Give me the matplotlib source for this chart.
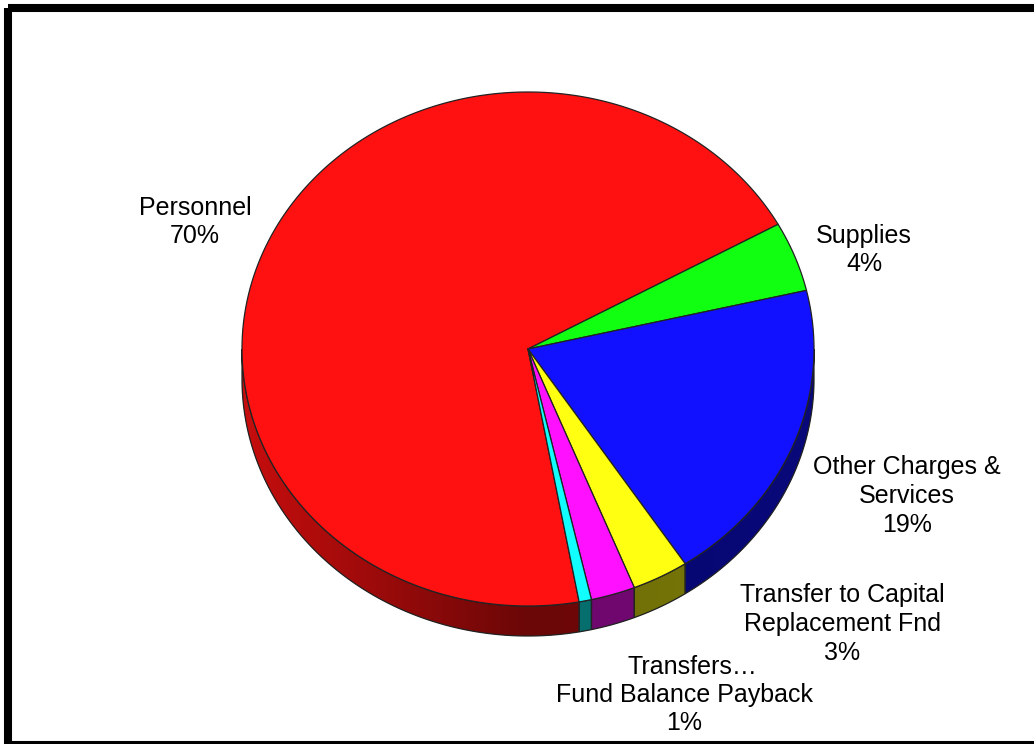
import numpy as np
import matplotlib
matplotlib.use("Agg")
import matplotlib.pyplot as plt
from matplotlib.patches import Polygon, Rectangle

# Budget shares (percent)
categories = ["Personnel", "Supplies", "Other Charges &\nServices",
              "Transfer to Capital\nReplacement Fnd", "Transfers…",
              "Fund Balance Payback"]
values = [69.8, 4.4, 19.4, 3.2, 2.5, 0.7]
show_pct = [True, True, True, True, False, True]
colors = ["#ff1111", "#11ff11", "#1111ff", "#ffff11", "#ff11ff", "#11ffff"]

# label anchor points in pixels (x, y centre)
label_pos = [(195, 222), (864, 250), (907, 496), (842, 624), (692, 667), (684, 709)]

W, H = 1034, 744
fig = plt.figure(figsize=(W / 100, H / 100), dpi=100)
ax = fig.add_axes([0, 0, 1, 1])
ax.set_xlim(0, W)
ax.set_ylim(H, 0)
ax.axis("off")

# pie geometry (pixels)
cx, cy, rx, ry, depth = 528, 349, 286, 257, 30
start = 280.3  # first slice starts here, going clockwise


def pt(t, dz=0.0):
    r = np.radians(t)
    return cx + rx * np.cos(r), cy - ry * np.sin(r) + dz


def shade_x(x):
    # lighting of the rim, brightest on the left side
    c = np.clip((x - cx) / rx, -1, 1)
    return 0.42 + 0.36 * np.maximum(0.0, -c) + 0.06 * np.maximum(0.0, c)


edge = "#222222"
total = sum(values)
spans = []
a = start
for v in values:
    w = 360.0 * v / total
    spans.append((a - w, a))
    a -= w

# horizontal shading ramp used for the rim
xs = np.linspace(cx - rx, cx + rx, 600)
ramp = shade_x(xs)

# side walls for the front half of the pie
for (lo, hi), col in zip(spans, colors):
    rgb = np.array(matplotlib.colors.to_rgb(col))
    for off in (0, 360, -360):
        s0, s1 = max(lo + off, 180), min(hi + off, 360)
        if s1 <= s0:
            continue
        ts = np.linspace(s0, s1, max(2, int((s1 - s0) * 2) + 1))
        top = [pt(t) for t in ts]
        bot = [pt(t, depth) for t in ts[::-1]]
        side = Polygon(top + bot, closed=True, facecolor=rgb * 0.45,
                       edgecolor="none")
        ax.add_patch(side)
        img = ramp[None, :, None] * rgb[None, None, :]
        im = ax.imshow(img, extent=(cx - rx, cx + rx, cy + ry + depth + 2, cy - 2),
                       aspect="auto", interpolation="bilinear", zorder=1.5)
        im.set_clip_path(side)
        ax.add_patch(Polygon(top + bot, closed=True, facecolor="none",
                             edgecolor=edge, lw=0.9, zorder=1.6))

# top faces
for (lo, hi), col in zip(spans, colors):
    ts = np.linspace(lo, hi, max(3, int((hi - lo) * 2)))
    poly = [(cx, cy)] + [pt(t) for t in ts]
    ax.add_patch(Polygon(poly, closed=True, facecolor=col,
                         edgecolor=edge, lw=0.9, joinstyle="round", zorder=2))

ax.set_xlim(0, W)
ax.set_ylim(H, 0)

# labels
for name, v, show, (x, y) in zip(categories, values, show_pct, label_pos):
    txt = name + (f"\n{v / total * 100:.0f}%" if show else "")
    ax.text(x, y, txt, ha="center", va="center", fontsize=18,
            family="Liberation Sans", linespacing=1.26, color="black", zorder=3)

# outer frame
ax.add_patch(Rectangle((8, 8), 1032, 737, facecolor="none",
                       edgecolor="black", lw=5.8, joinstyle="round", zorder=4))

fig.savefig("out.png", dpi=100)
